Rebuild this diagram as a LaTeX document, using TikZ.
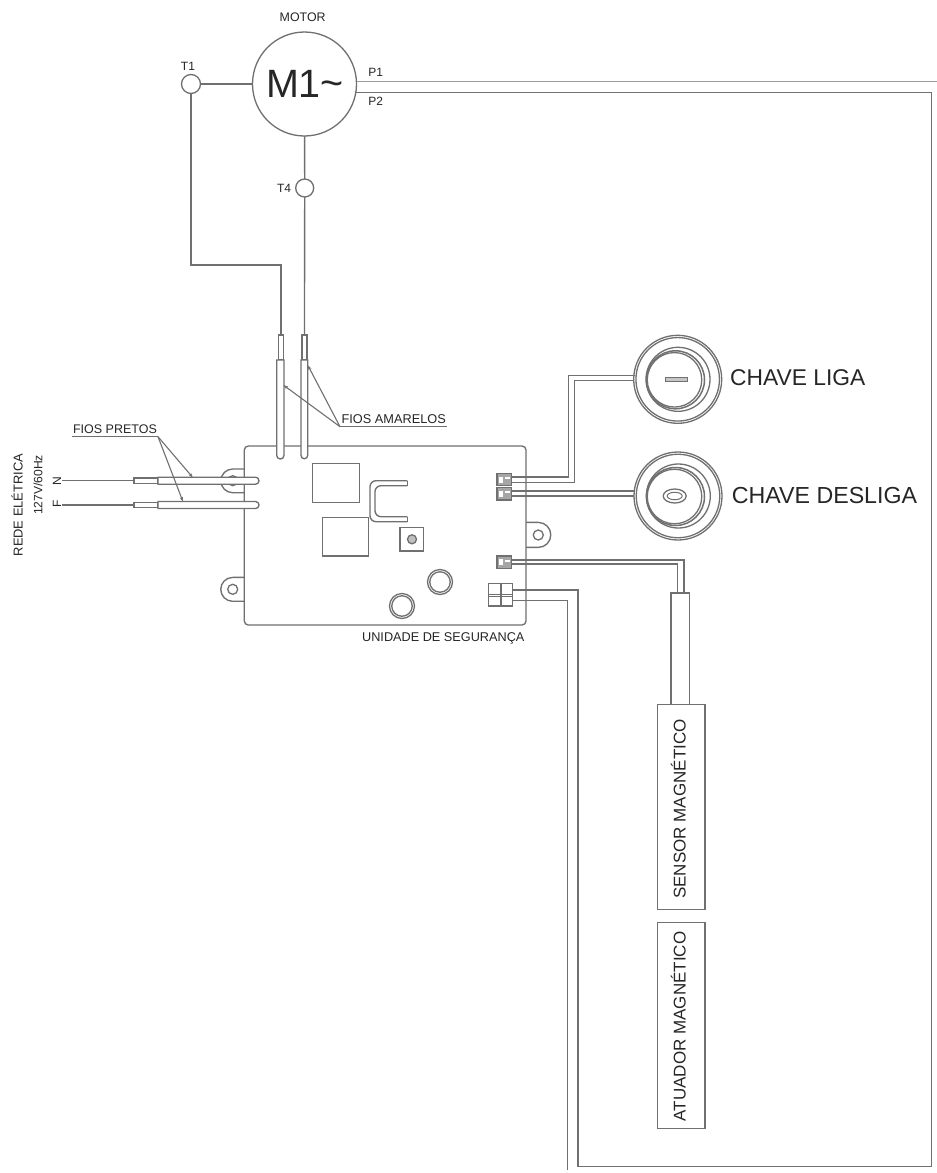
\documentclass[tikz,border=0pt]{standalone}
\usepackage{fontspec}
\setmainfont{Liberation Sans}
\usetikzlibrary{arrows.meta,shapes.geometric}
\definecolor{ln}{HTML}{707070}
\definecolor{tx}{HTML}{262626}
\tikzset{
  wire/.style={draw=ln,line width=1.35pt},
  part/.style={draw=ln,line width=1.35pt,fill=white},
  thin part/.style={draw=ln,line width=0.9pt},
  ring/.style={circle,draw=ln,line width=1.3pt,inner sep=0pt,outer sep=0pt},
  box/.style={rectangle,draw=ln,line width=1.35pt,inner sep=0pt,outer sep=0pt},
  block/.style={box,fill=gray!70},
  lbl/.style={text=tx,inner sep=0pt,font=\fontsize{#1}{#1}\selectfont},
  lbl/.default=12.5,
  lead/.style={draw=ln,line width=1.1pt,-{Stealth[length=5pt,width=3.2pt]}},
  under/.style={draw=ln,line width=1.3pt}
}
\begin{document}
\begin{tikzpicture}[x=1pt,y=-1pt]
\useasboundingbox[fill=white] (0,0) rectangle (937,1173);

% ---------- motor ----------
\node[ring,minimum size=104pt] (M) at (304.5,84) {};
\node[lbl=39.5] (Mtxt) at (305,84) {M1\raisebox{1pt}{\char"007E}};
\node[lbl=12.4] (Mlab) at (302.7,17.7) {MOTOR};
\node[ring,minimum size=19pt] (T1) at (191,84) {};
\node[ring,minimum size=18pt] (T4) at (304.7,188) {};
\node[lbl=12] (T1l) at (188,66.5) {T1};
\node[lbl=12] (T4l) at (284,188) {T4};
\node[lbl=12] (P1l) at (375.7,72.3) {P1};
\node[lbl=12] (P2l) at (375.7,101.7) {P2};

% ---------- board ----------
\path[part] (244.3,469) -- (232.7,469) arc[start angle=-90,end angle=-270,radius=11.85] -- (244.3,492.7);
\path[part] (244.3,577.4) -- (232.7,577.4) arc[start angle=-90,end angle=-270,radius=11.95] -- (244.3,601.3);
\path[part] (526,522.4) -- (538.3,522.4) arc[start angle=-90,end angle=90,radius=12.5] -- (526,547.4);
\node[box,rounded corners=4pt,fill=white,minimum width=281.7pt,minimum height=179pt] (B) at (385.15,535.5) {};
\node[ring,minimum size=10pt] (h1) at (232.7,480.7) {};
\node[ring,minimum size=10pt] (h2) at (232.7,589.3) {};
\node[ring,minimum size=10pt] (h3) at (538.3,535) {};
\node[box,minimum width=46.6pt,minimum height=39.4pt] (S1) at (336,483) {};
\node[box,minimum width=46.4pt,minimum height=38.7pt] (S2) at (345.5,536.6) {};
\node[box,minimum width=23.7pt,minimum height=23.3pt] (S3) at (411.8,539.3) {};
\node[ring,minimum size=9pt,fill=gray!50] (S3c) at (412,539.3) {};
\path[wire,rounded corners=6pt] (407.3,480.7) -- (370,480.7) -- (370,521.7) -- (407.3,521.7);
\path[wire,rounded corners=6pt] (407.3,516.7) -- (375,516.7) -- (375,485.7) -- (407.3,485.7);
\path[wire] (407.3,480.7) -- (407.3,485.7) (407.3,516.7) -- (407.3,521.7);
\node[ring,minimum size=25pt] (R1) at (440,582) {};
\node[ring,minimum size=20.5pt] (R1i) at (440,582) {};
\node[ring,minimum size=25pt] (R2) at (402,606) {};
\node[ring,minimum size=20.5pt] (R2i) at (402,606) {};
\node[lbl=12.7] (Blab) at (443.3,638) {UNIDADE DE SEGURANÇA};

% connectors on the board
\node[block,minimum width=14.7pt,minimum height=12.4pt] (C1) at (504.3,479.5) {};
\node[block,minimum width=14.7pt,minimum height=12.3pt] (C2) at (504.3,493.8) {};
\node[block,minimum width=14.7pt,minimum height=12.7pt] (C3) at (504.3,562.3) {};
\foreach \c in {C1,C2,C3}{
  \fill[white] ([xshift=2.5pt,yshift=-3pt]\c.west) rectangle ([xshift=6pt,yshift=3pt]\c.west);
  \fill[white] ([xshift=8.5pt,yshift=0.6pt]\c.west) rectangle ([xshift=13pt,yshift=2.4pt]\c.west);
}
\node[box,fill=white,minimum width=24pt,minimum height=22.7pt] (C4) at (500.3,594.7) {};
\path[wire] (C4.north) -- (C4.south) (C4.west) -- (C4.east);
\path[thin part] ([xshift=1.5pt]C4.north) -- ([xshift=1.5pt]C4.south);
\path[thin part] ([yshift=-1.5pt]C4.west) -- ([yshift=-1.5pt]C4.east);

% ---------- switches ----------
\node[ring,minimum size=88pt] (L0) at (677.7,379.3) {};
\node[ring,minimum size=83.5pt] (L1) at (677.7,379.3) {};
\node[ring,minimum size=64pt] (L2) at (678,379.3) {};
\node[ring,minimum size=58pt,line width=1.5pt] (L3) at (675.5,379.8) {};
\node[ring,minimum size=54.5pt] (L4) at (674.5,379.8) {};
\node[box,fill=gray!45,minimum width=22pt,minimum height=4pt] (Lb) at (676.7,379.7) {};
\node[ring,minimum size=88pt] (D0) at (678,496) {};
\node[ring,minimum size=83.5pt] (D1) at (678,496) {};
\node[ring,minimum size=64pt] (D2) at (678.3,496) {};
\node[ring,minimum size=58pt,line width=1.5pt] (D3) at (675.5,496.5) {};
\node[ring,minimum size=54.5pt] (D4) at (674.5,496.5) {};
\node[ellipse,draw=ln,line width=1.3pt,inner sep=0pt,minimum width=23pt,minimum height=14pt] (Db) at (674.7,496) {};
\node[ellipse,draw=ln,line width=1pt,inner sep=0pt,minimum width=15pt,minimum height=7.5pt] (Dc) at (674.7,496) {};
\node[lbl=22.8,anchor=west] (Ltxt) at (730,377.7) {CHAVE LIGA};
\node[lbl=23.2,anchor=west] (Dtxt) at (731.7,495.7) {CHAVE DESLIGA};

% ---------- sensor / actuator ----------
\node[box,minimum width=18.3pt,minimum height=111.3pt] (Cab) at (680.15,648.65) {};
\node[box,minimum width=47.3pt,minimum height=205pt] (Sen) at (681.35,806.8) {};
\node[box,minimum width=47.3pt,minimum height=206.4pt] (Atu) at (681.35,1025.5) {};
\node[lbl=17,rotate=90] (Stxt) at (678.3,809) {SENSOR MAGNÉTICO};
\node[lbl=17,rotate=90] (Atxt) at (678.3,1026.4) {ATUADOR MAGNÉTICO};

% ---------- routing points ----------
\coordinate (a1) at (191,265);
\coordinate (a2) at (281,265);
\coordinate (a3) at (281,335);
\coordinate (b3) at (304.5,335);
\coordinate (N0) at (62,480.7);
\coordinate (N1) at (134,480.7);
\coordinate (F0) at (62,505);
\coordinate (F1) at (134,505);
\coordinate (p1e) at (937,81.3);
\coordinate (p1s) at (356.5,81.3);
\coordinate (p2s) at (356,92.5);
\coordinate (p2a) at (931.8,92.5);
\coordinate (p2b) at (931.8,1166.7);
\coordinate (p2c) at (578,1166.7);
\coordinate (p2d) at (578,590);
\coordinate (p2e) at (512.3,590);
\coordinate (q1) at (567.7,1170);
\coordinate (q2) at (567.7,600.7);
\coordinate (q3) at (512.3,600.7);
\coordinate (l1) at (511.7,477.1);
\coordinate (l2) at (568.3,477.1);
\coordinate (l3) at (568.3,375.7);
\coordinate (l4) at (635,375.7);
\coordinate (m1) at (511.7,482.3);
\coordinate (m2) at (574.3,482.3);
\coordinate (m3) at (574.3,380.7);
\coordinate (m4) at (634,380.7);
\coordinate (d1) at (511.7,491);
\coordinate (d2) at (634,491);
\coordinate (e1) at (511.7,496);
\coordinate (e2) at (634,496);
\coordinate (s1) at (511.7,560);
\coordinate (s2) at (684,560);
\coordinate (s3) at (684,593);
\coordinate (t1) at (511.7,564);
\coordinate (t2) at (677.3,564);
\coordinate (t3) at (677.3,593);

% ---------- wires ----------
\path[wire] (T1) -- (M);
\path[wire] (T1) -- (a1) -- (a2) -- (a3);
\path[wire] (M) -- (T4);
\path[wire] (T4) -- (b3);
\path[wire,draw=ln!70] (p1s) -- (p1e);
\path[wire] (p2s) -- (p2a) -- (p2b) -- (p2c) -- (p2d) -- (p2e);
\path[wire] (q1) -- (q2) -- (q3);
\path[wire] (l1) -- (l2) -- (l3) -- (l4);
\path[wire] (m1) -- (m2) -- (m3) -- (m4);
\path[wire] (d1) -- (d2);
\path[wire] (e1) -- (e2);
\path[wire] (s1) -- (s2) -- (s3);
\path[wire] (t1) -- (t2) -- (t3);
\path[wire] (N0) -- (N1);
\path[wire] (F0) -- (F1);

% ---------- sleeves ----------
\path[part] (278.4,335) rectangle (283.6,360);
\path[part] (302,335) rectangle (307,360);
\path[part] (276.7,360) -- (276.7,455.4) arc[start angle=180,end angle=0,radius=3.65] -- (284,360) -- cycle;
\path[part] (301,360) -- (301,455.4) arc[start angle=180,end angle=0,radius=3.35] -- (307.7,360) -- cycle;
\path[part] (134,478) rectangle (158,483.4);
\path[part] (134,502.3) rectangle (158,507.7);
\path[part] (158,477.2) -- (255.5,477.2) arc[start angle=-90,end angle=90,radius=3.5] -- (158,484.2) -- cycle;
\path[part] (158,501.5) -- (255.5,501.5) arc[start angle=-90,end angle=90,radius=3.5] -- (158,508.5) -- cycle;

% ---------- callouts ----------
\coordinate (ya) at (340,426.7);
\coordinate (yb) at (446.7,426.7);
\coordinate (y1) at (283.3,385);
\coordinate (y2) at (307.7,365);
\coordinate (ka) at (72,436.7);
\coordinate (kb) at (158,436.7);
\coordinate (k1) at (193,477.7);
\coordinate (k2) at (183,501.7);
\path[under] (ya) -- (yb);
\path[lead] (ya) -- (y1);
\path[lead] (ya) -- (y2);
\path[under] (ka) -- (kb);
\path[lead] (kb) -- (k1);
\path[lead] (kb) -- (k2);
\node[lbl=12.75] (Ytxt) at (393.7,419.3) {FIOS AMARELOS};
\node[lbl=12.5] (Ktxt) at (115,429) {FIOS PRETOS};

% ---------- mains labels ----------
\node[lbl=12,rotate=90] (Ntxt) at (57,480.7) {N};
\node[lbl=12,rotate=90] (Ftxt) at (57,503.5) {F};
\node[lbl=12.9,rotate=90] (Rtxt) at (17,505) {REDE ELÉTRICA};
\node[lbl=12.1,rotate=90] (Vtxt) at (38,485) {127V/60Hz};
\end{tikzpicture}
\end{document}
